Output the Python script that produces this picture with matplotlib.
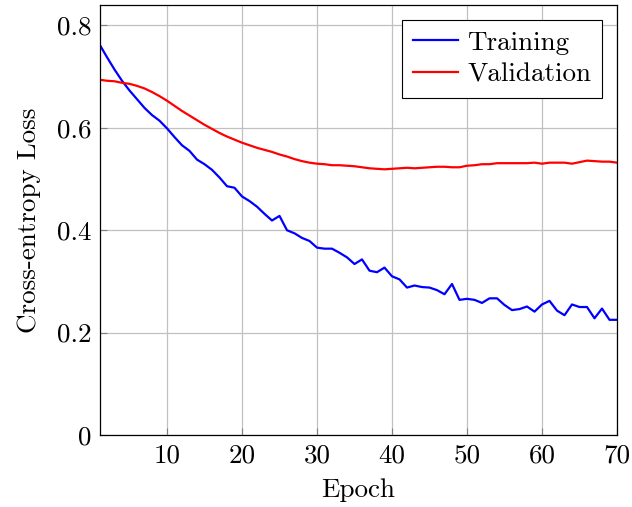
import matplotlib
matplotlib.use("Agg")
import matplotlib.pyplot as plt
import numpy as np

epochs = list(range(1, 71))
training = [0.763, 0.738, 0.714, 0.692, 0.673, 0.656, 0.639, 0.625, 0.614, 0.599,
            0.582, 0.566, 0.555, 0.538, 0.529, 0.518, 0.503, 0.486, 0.483, 0.466,
            0.457, 0.446, 0.432, 0.419, 0.428, 0.400, 0.394, 0.385, 0.379, 0.366,
            0.364, 0.364, 0.356, 0.347, 0.334, 0.343, 0.321, 0.318, 0.327, 0.310,
            0.304, 0.288, 0.292, 0.289, 0.288, 0.283, 0.275, 0.295, 0.264, 0.266,
            0.264, 0.258, 0.267, 0.267, 0.254, 0.244, 0.246, 0.251, 0.241, 0.255,
            0.262, 0.243, 0.234, 0.255, 0.250, 0.250, 0.228, 0.247, 0.225, 0.225]
validation = [0.694, 0.692, 0.691, 0.688, 0.686, 0.682, 0.677, 0.670, 0.662, 0.653,
              0.643, 0.633, 0.624, 0.615, 0.606, 0.598, 0.590, 0.583, 0.577, 0.571,
              0.566, 0.561, 0.557, 0.553, 0.548, 0.544, 0.539, 0.535, 0.532, 0.530,
              0.529, 0.527, 0.527, 0.526, 0.525, 0.523, 0.521, 0.520, 0.519, 0.520,
              0.521, 0.522, 0.521, 0.522, 0.523, 0.524, 0.524, 0.523, 0.523, 0.526,
              0.527, 0.529, 0.529, 0.531, 0.531, 0.531, 0.531, 0.531, 0.532, 0.530,
              0.532, 0.532, 0.532, 0.530, 0.533, 0.536, 0.535, 0.534, 0.534, 0.532]
xticks = [10, 20, 30, 40, 50, 60, 70]
yticks = [0, 0.2, 0.4, 0.6, 0.8]
ytick_labels = ["0", "0.2", "0.4", "0.6", "0.8"]

plt.rcParams['font.family'] = ['cmr10', 'DejaVu Serif']
plt.rcParams['mathtext.fontset'] = 'cm'
plt.rcParams['axes.formatter.use_mathtext'] = True

FS = 19.5
fig = plt.figure(figsize=(6.32, 5.07), dpi=100)
ax = fig.add_axes([99.5 / 632, 1 - 435 / 507, (617 - 99.5) / 632, (435 - 5) / 507])

ax.plot(epochs, training, color='#0000ff', lw=1.6, label='Training')
ax.plot(epochs, validation, color='#ff0000', lw=1.6, label='Validation')

ax.set_xlim(1, 70)
ax.set_ylim(0, 0.84)
ax.set_xticks(xticks)
ax.set_xticklabels([str(t) for t in xticks])
ax.set_yticks(yticks)
ax.set_yticklabels(ytick_labels)
ax.grid(True, color='#c0c0c0', lw=0.9)
ax.set_axisbelow(True)
ax.tick_params(direction='in', length=5, width=0.8, color='#808080', labelsize=FS, pad=6,
               top=False, right=False)
for s in ax.spines.values():
    s.set_linewidth(0.9)
    s.set_color('black')

ax.set_xlabel('Epoch', fontsize=FS, labelpad=8)
ax.set_ylabel('Cross-entropy Loss', fontsize=FS, labelpad=11)

leg = ax.legend(loc='upper right', fontsize=FS, fancybox=False, framealpha=1,
                edgecolor='black', borderaxespad=0.55, handlelength=1.65, borderpad=0.4,
                labelspacing=0.3, handletextpad=0.35)
leg.get_frame().set_linewidth(0.8)

fig.savefig('out.png', dpi=100)
